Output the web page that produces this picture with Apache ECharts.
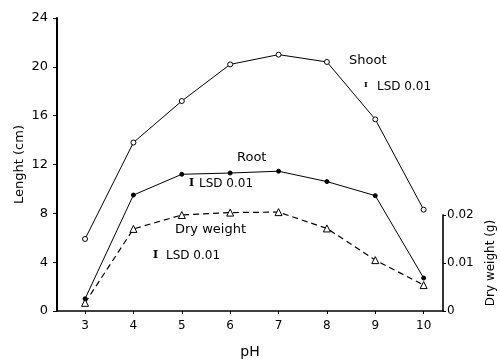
<!DOCTYPE html>
<html><head><meta charset="utf-8">
<script src="https://cdn.jsdelivr.net/npm/echarts@6/dist/echarts.min.js"></script>
<style>html,body{margin:0;padding:0;background:#fff}#c{width:500px;height:361px}</style>
</head><body><div id="c"></div>
<script>
var pH = [3, 4, 5, 6, 7, 8, 9, 10];
var shoot = [5.9, 13.8, 17.2, 20.2, 21.0, 20.4, 15.7, 8.3];
var root = [1.0, 9.5, 11.2, 11.3, 11.45, 10.6, 9.45, 2.7];
var dryWeight = [0.0017, 0.0171, 0.0200, 0.0205, 0.0206, 0.0172, 0.0106, 0.0054];
var lengthTicks = [0, 4, 8, 12, 16, 20, 24];
var dryTicks = [0, 0.01, 0.02];

var FONT = 'DejaVu Sans';
function pairs(xs, ys){ return xs.map(function(x,i){ return [x, ys[i]]; }); }

var chart = echarts.init(document.getElementById('c'), null, {renderer:'canvas'});
var axisLine = {show:true, lineStyle:{color:'#000', width:1.6}};
chart.setOption({
  animation:false,
  backgroundColor:'#fff',
  grid:[
    {left:57, right:57, top:18, bottom:50, containLabel:false, outerBoundsMode:'none'},
    {left:57, right:57, top:215, bottom:50, containLabel:false, outerBoundsMode:'none'}
  ],
  xAxis:[
    {type:'value', gridIndex:0, min:2.42, max:10.4,
     name:'pH', nameLocation:'middle', nameGap:34,
     nameTextStyle:{fontFamily:FONT, fontSize:14, color:'#000'},
     axisLine:axisLine, splitLine:{show:false},
     axisTick:{show:true, length:3, lineStyle:{color:'#000'}, customValues:pH},
     axisLabel:{fontFamily:FONT, fontSize:12, color:'#000', margin:9, customValues:pH}},
    {type:'value', gridIndex:1, min:2.42, max:10.4, show:false}
  ],
  yAxis:[
    {type:'value', gridIndex:0, min:0, max:24, interval:4,
     name:'Lenght (cm)', nameLocation:'middle', nameGap:31, nameRotate:90, nameMoveOverlap:false,
     nameTextStyle:{fontFamily:FONT, fontSize:13, color:'#000'},
     axisLine:{show:true, lineStyle:{color:'#000', width:2}}, splitLine:{show:false},
     axisTick:{show:true, length:4, lineStyle:{color:'#000'}},
     axisLabel:{fontFamily:FONT, fontSize:13, color:'#000', margin:9}},
    {type:'value', gridIndex:1, position:'right', min:0, max:0.02, interval:0.01,
     name:'Dry weight (g)', nameLocation:'middle', nameGap:42, nameRotate:90,
     nameTextStyle:{fontFamily:FONT, fontSize:12, color:'#000'},
     axisLine:axisLine, splitLine:{show:false},
     axisTick:{show:true, length:3, lineStyle:{color:'#000'}},
     axisLabel:{fontFamily:FONT, fontSize:12, color:'#000', margin:4}}
  ],
  series:[
    {type:'line', name:'Shoot', xAxisIndex:0, yAxisIndex:0, data:pairs(pH, shoot),
     symbol:'circle', symbolSize:5, lineStyle:{color:'#000', width:1},
     itemStyle:{color:'#fff', borderColor:'#000', borderWidth:1}},
    {type:'line', name:'Root', xAxisIndex:0, yAxisIndex:0, data:pairs(pH, root),
     symbol:'circle', symbolSize:4, lineStyle:{color:'#000', width:1},
     itemStyle:{color:'#000', borderColor:'#000', borderWidth:1}},
    {type:'line', name:'Dry weight', xAxisIndex:1, yAxisIndex:1, data:pairs(pH, dryWeight),
     clip:false, symbol:'triangle', symbolSize:7, lineStyle:{color:'#000', width:1.2, type:[6,4]},
     itemStyle:{color:'#fff', borderColor:'#000', borderWidth:1}}
  ],
  graphic:[
    {type:'text', left:349, top:54, style:{text:'Shoot', font:'13px "DejaVu Sans"', fill:'#000'}},
    {type:'text', left:364, top:81, style:{text:'I', font:'bold 8px "DejaVu Serif"', fill:'#000'}},
    {type:'text', left:377, top:81, style:{text:'LSD 0.01', font:'12px "DejaVu Sans"', fill:'#000'}},
    {type:'text', left:237, top:151, style:{text:'Root', font:'13px "DejaVu Sans"', fill:'#000'}},
    {type:'text', left:189, top:178, style:{text:'I', font:'bold 11px "DejaVu Serif"', fill:'#000'}},
    {type:'text', left:199, top:178, style:{text:'LSD 0.01', font:'12px "DejaVu Sans"', fill:'#000'}},
    {type:'text', left:175, top:223, style:{text:'Dry weight', font:'13px "DejaVu Sans"', fill:'#000'}},
    {type:'text', left:153, top:250, style:{text:'I', font:'bold 11px "DejaVu Serif"', fill:'#000'}},
    {type:'text', left:166, top:250, style:{text:'LSD 0.01', font:'12px "DejaVu Sans"', fill:'#000'}}
  ]
});
</script></body></html>
